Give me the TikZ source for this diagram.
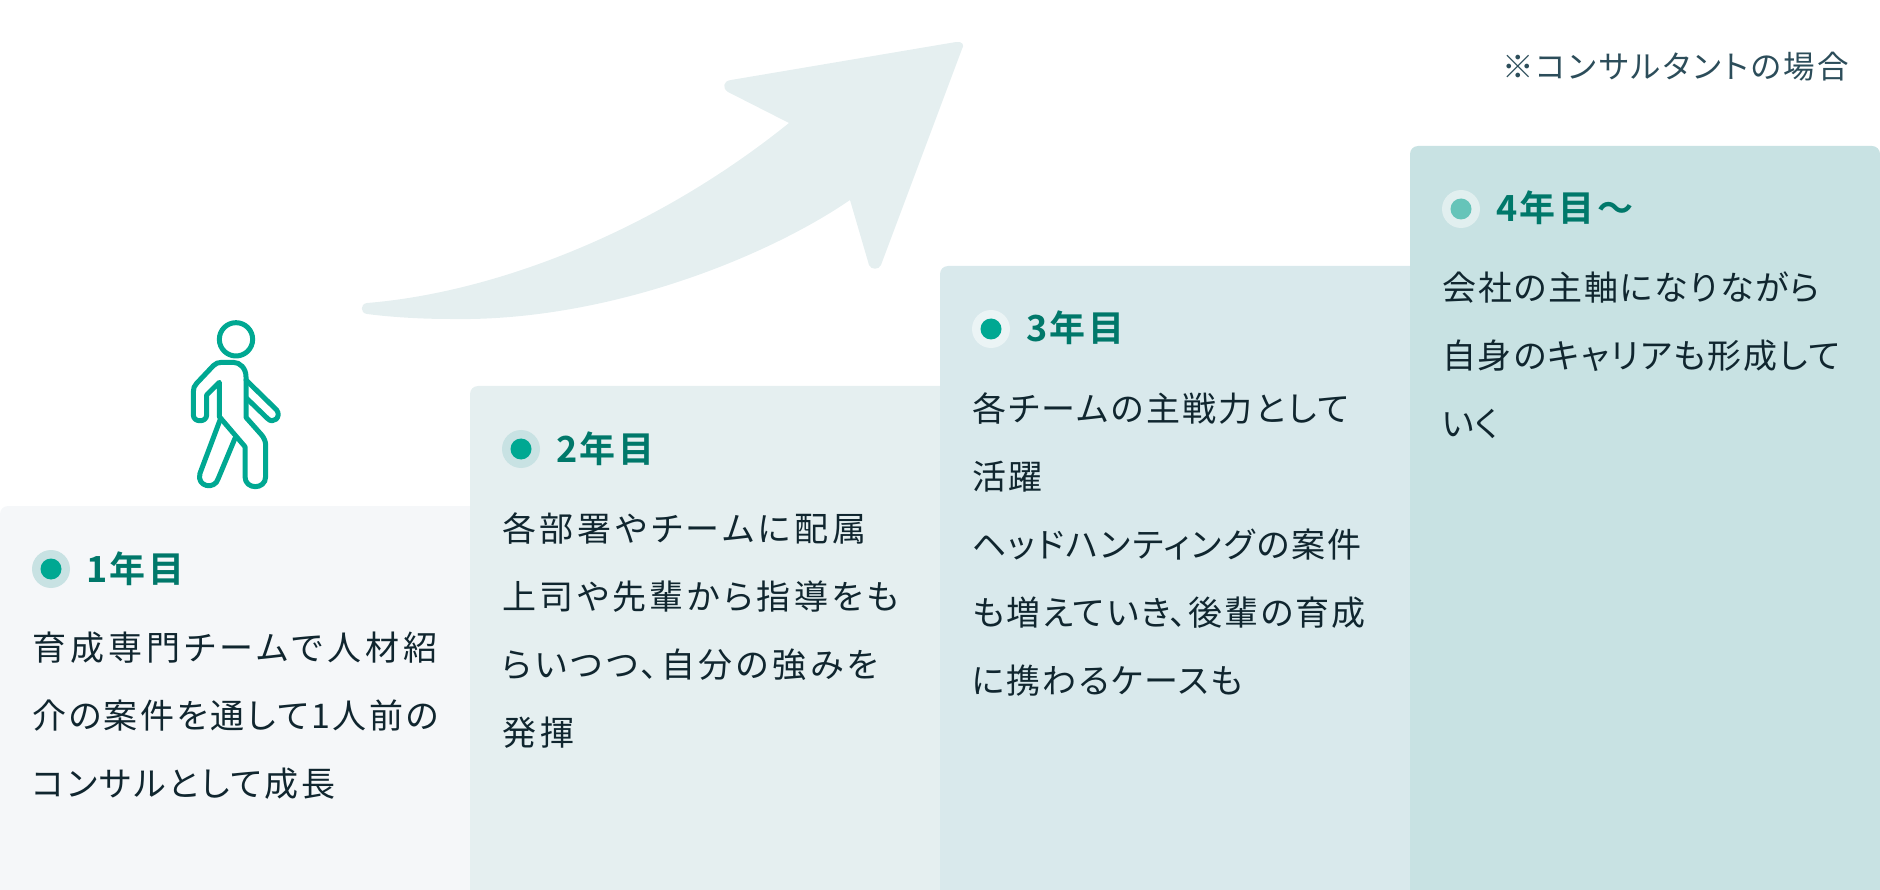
\documentclass[tikz,border=0pt]{standalone}
\usepackage{fontspec}
\newfontfamily\jpbody[RawFeature={+palt},LetterSpace=8]{Noto Sans CJK JP}
\newfontfamily\jphead[RawFeature={+palt},LetterSpace=7]{Noto Sans CJK JP Bold}
\newcommand\trk[2]{{\addfontfeatures{LetterSpace=#1}#2}}
\definecolor{cardA}{HTML}{F5F7F9}
\definecolor{cardB}{HTML}{E5EFF0}
\definecolor{cardC}{HTML}{D9E9EC}
\definecolor{cardD}{HTML}{C8E2E3}
\definecolor{headcol}{HTML}{00786A}
\definecolor{bodycol}{HTML}{10262F}
\definecolor{notecol}{HTML}{2C4D5A}
\definecolor{teal}{HTML}{00A892}
\definecolor{tealsoft}{HTML}{66C4B9}
\definecolor{ringC}{HTML}{EBF4F5}
\definecolor{ringD}{HTML}{E1EFEF}
\tikzset{
 card/.style={fill=#1,draw=none,rounded corners=8pt},
 headtext/.style={inner sep=0pt,anchor=base west,text=headcol,font=\jphead\fontsize{36}{36}\selectfont},
 bodytext/.style={inner sep=0pt,anchor=north west,align=left,text=bodycol,font=\jpbody\fontsize{34}{68}\selectfont},
 ring/.style={circle,inner sep=0pt,minimum size=38pt,fill=#1},
 dot/.style={circle,inner sep=0pt,minimum size=21pt,fill=#1},
 walker/.style={draw=teal,line width=5pt,line join=round,line cap=round,fill=none}
}
\begin{document}
\begin{tikzpicture}[x=1pt,y=-1pt]
\useasboundingbox (0,0) rectangle (1880,890);
% arrow
\fill[cardB] (367,303) .. controls (490,293) and (650,235) .. (789,123)
 -- (728,92) .. controls (722,88) and (723,81) .. (731,80)
 -- (956,42) .. controls (962,41) and (965,45) .. (962,49)
 -- (881,265) .. controls (879,270) and (871,270) .. (869,265)
 -- (850,200) .. controls (770,255) and (610,322) .. (450,319)
 .. controls (420,319) and (390,317) .. (367,314)
 .. controls (360,313) and (360,304) .. (367,303) -- cycle;
% walker
\begin{scope}[shift={(150,300)},x=0.33333pt,y=-0.33333pt,walker]
\draw (258,118) circle[radius=50];
\draw (130,275) -- (130,345) .. controls (130,368) and (170,368) .. (170,345) -- (170,285) -- (208,247) -- (208,350) -- (285,440) -- (285,530)
 .. controls (285,570) and (347,570) .. (347,530) -- (347,435) .. controls (347,425) and (342,413) .. (335,405) -- (288,352) -- (288,230)
 .. controls (288,205) and (270,187) .. (250,187) -- (215,187) .. controls (205,187) and (197,190) .. (190,197) -- (140,250) .. controls (133,257) and (130,265) .. (130,275) -- cycle;
\draw (212,355) -- (150,520) .. controls (138,560) and (195,572) .. (205,535) -- (255,415);
\draw (288,240) -- (380,330) .. controls (395,350) and (370,375) .. (352,355) -- (290,295);
\end{scope}
% cards
\fill[card=cardA] (0,900) -- (0,506) -- (480,506) -- (480,900) -- cycle;
\fill[card=cardB] (470,900) -- (470,386) -- (950,386) -- (950,900) -- cycle;
\fill[card=cardC] (940,900) -- (940,266) -- (1420,266) -- (1420,900) -- cycle;
\fill[card=cardD] (1410,900) -- (1410,146) -- (1880,146) -- (1880,900) -- cycle;
% bullets
\node[ring=cardD] (r1) at (51,569) {}; \node[dot=teal] (d1) at (51,569) {};
\node[ring=cardD] (r2) at (521,449) {}; \node[dot=teal] (d2) at (521,449) {};
\node[ring=ringC] (r3) at (991,329) {}; \node[dot=teal] (d3) at (991,329) {};
\node[ring=ringD] (r4) at (1461,209) {}; \node[dot=tealsoft] (d4) at (1461,209) {};
% headings
\node[headtext] (h1) at (86,582) {1年目};
\node[headtext] (h2) at (556,462) {2年目};
\node[headtext] (h3) at (1026,342) {3年目};
\node[headtext] (h4) at (1496,222) {4年目〜};
% bodies
\node[bodytext] (b1) at (32,632) {\trk{12}{育成専門チームで人材紹}\\\trk{7.4}{介の案件を通して1人前の}\\\trk{7.2}{コンサルとして成長}};
\node[bodytext] (b2) at (502,512) {\trk{11.2}{各部署やチームに配属}\\\trk{10.2}{上司や先輩から指導をも}\\\trk{10.6}{らいつつ、自分の強みを}\\\trk{11.5}{発揮}};
\node[bodytext] (b3) at (972,392) {\trk{7}{各チームの主戦力として}\\活躍\\\trk{5.7}{ヘッドハンティングの案件}\\\trk{5.8}{も増えていき、後輩の育成}\\\trk{5.4}{に携わるケースも}};
\node[bodytext] (b4) at (1442,272) {\trk{5.4}{会社の主軸になりながら}\\\trk{5}{自身のキャリアも形成して}\\\trk{3}{いく}};
% note
\node[inner sep=0pt,anchor=base west,text=notecol,font=\jpbody\fontsize{31.5}{32}\selectfont] (n) at (1502,79) {※コンサルタントの場合};
\end{tikzpicture}
\end{document}
